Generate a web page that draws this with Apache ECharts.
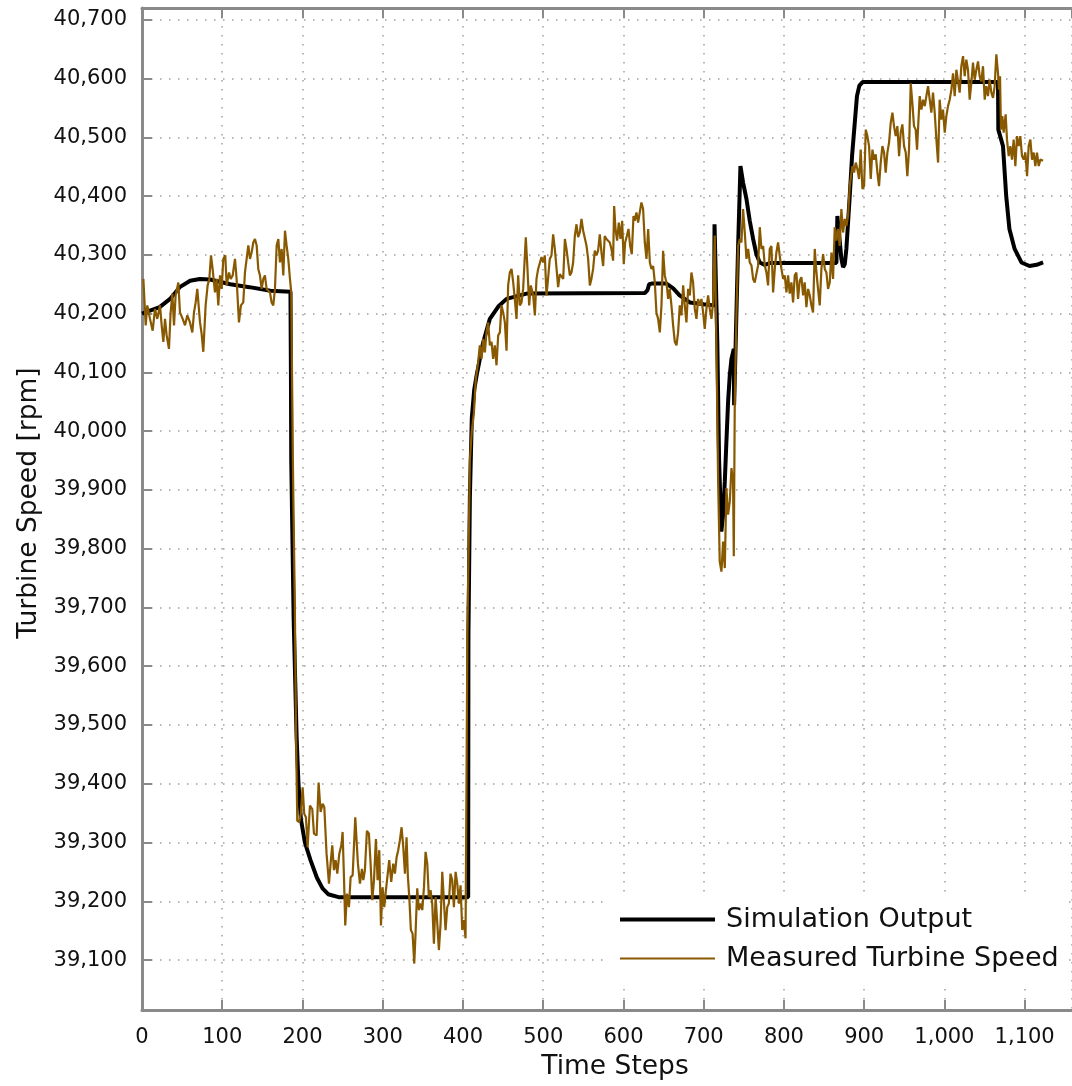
<!DOCTYPE html>
<html><head><meta charset="utf-8">
<script src="https://cdn.jsdelivr.net/npm/echarts@6/dist/echarts.min.js"></script>
<style>html,body{margin:0;padding:0;background:#fff}#c{width:1072px;height:1086px}</style>
</head><body><div id="c"></div>
<script>
const seriesNames = ['Simulation Output', 'Measured Turbine Speed'];
const yTicks = [39100, 39200, 39300, 39400, 39500, 39600, 39700, 39800, 39900, 40000, 40100, 40200, 40300, 40400, 40500, 40600, 40700];

const simX = [0, 2, 10, 22, 35, 47, 60, 72, 85, 110, 134, 160, 185, 185.6, 186, 189, 192.7, 195, 198, 203, 210, 218, 225, 232, 245, 406.5, 406.8, 408.6, 411, 414, 417, 425, 433.5, 444, 454.3, 479.3, 626.6, 630, 632, 635, 653.6, 662, 670, 682.7, 700, 713, 713.5, 715.5, 717, 719.2, 722, 724.2, 726.3, 728.3, 730.4, 732.5, 734.6, 737.5, 737.9, 740, 742.9, 745.8, 749.1, 753.3, 757.4, 761.6, 765.7, 769.9, 776.1, 782.3, 865.4, 866.6, 868.7, 871.6, 873.7, 875.8, 877.8, 879.9, 882, 885, 888, 891, 894, 898, 1066.8, 1067.2, 1073, 1077, 1081, 1087.5, 1096, 1106, 1115, 1123];
const simY = [40200, 40200, 40205, 40211, 40225, 40245, 40256, 40259, 40258, 40250, 40245, 40239, 40237, 40100, 39950, 39680, 39479, 39400, 39340, 39300, 39270, 39240, 39222, 39212, 39207, 39207, 39650, 39886, 40022, 40070, 40095, 40150, 40191, 40212, 40225, 40234, 40235, 40240, 40250, 40251, 40251, 40243, 40231, 40219, 40216, 40214, 40352, 40352, 40150, 39950, 39829, 39858, 39914, 39982, 40050, 40095, 40123, 40140, 40044, 40044, 40315, 40451, 40423, 40395, 40358, 40327, 40301, 40287, 40283, 40286, 40286, 40366, 40366, 40293, 40279, 40284, 40310, 40355, 40400, 40470, 40520, 40570, 40588, 40594, 40594, 40513, 40485, 40400, 40344, 40310, 40287, 40281, 40283, 40287];

const measX = [1.7, 4.6, 6.6, 10, 13.3, 16.2, 19.1, 22.4, 24.5, 26.6, 28.7, 30.7, 33.6, 35.7, 37.8, 39.9, 41.9, 45.3, 47.3, 50.7, 53.6, 56.5, 59.8, 62.7, 64.8, 66.9, 68.9, 72.3, 74.3, 76.4, 79.3, 81.8, 83.9, 86, 88, 90.9, 93, 95.1, 97.2, 99.3, 101.3, 103.8, 105.5, 108.4, 110.5, 113, 115.9, 117.9, 120.8, 123.3, 126.2, 128.3, 130.4, 132.5, 134.6, 136.6, 138.7, 140.8, 142.9, 144.9, 147, 149.1, 151.2, 153.2, 155.3, 159.5, 161.5, 163.6, 165.7, 167.8, 169.9, 171.9, 174, 176.1, 178.2, 180.2, 182.3, 184.4, 186,
  188, 190.5, 192, 193.5, 196, 198, 200.2, 202.2, 204.3, 206.4, 209.3, 212.2, 214.3, 217.6, 220.1, 222.6, 225.1, 227.2, 230, 233, 235, 237.1, 239.2, 241.3, 243.4, 245.9, 248.8, 250, 251.7, 253.3, 255.4, 257.9, 260, 262.5, 264.1, 265.8, 267.4, 269.1, 271.6, 274.1, 275.8, 277.8, 280.3, 282.8, 284.9, 287, 289.1, 291.5, 293.6, 295.7, 297.8, 299.8, 301.9, 304, 306.1, 308.1, 310.6, 313.1, 315.2, 317.3, 319.3, 321.4, 323.5, 325.6, 327.7, 329.7, 331.4, 333.1, 335.1, 337.2, 339.3, 340.9, 343, 345.1, 347.2, 349.3, 351.4, 353.4, 355.5, 357.5, 359.6, 361.7, 363.8, 365.9, 368, 370, 372.1, 374.2, 376.2, 378.3, 380.4, 382.4, 384.5, 386.6, 388.7, 390.8, 392.9, 395, 397, 399.1, 401.2, 403.2, 405.5, 408.6, 411, 413.6,
  416, 419, 421, 423.1, 425.2, 427.3, 429.3, 431.4, 433.5, 435.6, 437.6, 439.7, 441.8, 443.9, 446, 448, 450.1, 452.2, 454.3, 456.3, 458.4, 460.5, 462.6, 464.6, 466.7, 468.8, 470.9, 473, 475, 478.3, 480.4, 482.5, 484.5, 487.5, 489.6, 491.6, 493.7, 495.8, 497.9, 500, 502, 504.1, 506.2, 508.2, 510.3, 512.4, 514.5, 516.5, 518.6, 520.7, 522.8, 524.9, 527, 529, 531.1, 533.2, 535.2, 537.3, 539.4, 541.5, 543.5, 545.6, 547.7, 549.8, 551.8, 553.9, 556, 558.1, 560.1, 562.2, 564.3, 566.4, 568.4, 570.5, 572.6, 574.7, 576.7, 578.8, 580.9, 583, 585, 587.1, 588.4, 590.1, 592.1, 594.2, 596.3, 598.4, 600.4, 602.1, 604.2, 606.3, 608.3, 610.4, 612.5, 614.1, 616.2, 618.3, 620.3, 622.4, 624.5, 626.6, 628.7, 630.8, 632.9, 634.9, 637, 639.1, 641.1, 643.2, 645.3, 647.4, 649.4, 651.5, 653.6, 655.7, 657.7, 659.8, 661.9, 664, 666.1, 668.1, 670.2,
  672.3, 674.4, 676.4, 678.5, 680.6, 682.7, 684.7, 686.8, 688.9, 691, 693, 695.1, 697.2, 699.3, 701.3, 703.4, 705.5, 707.6, 709.7, 711.7, 713.8, 715.9, 718, 720, 722.1, 724.2, 726.3, 728.3, 730.4, 732.5, 734.6, 736.6, 737.5, 738.7, 740.8, 742.9, 745, 747, 749.1, 751.2, 753.3, 755.4, 757.4, 759.5, 761.6, 763.6, 765.7, 767.8, 769.9, 772, 774.1, 776.1, 778.2, 780.2, 782.3, 784.4, 786.5, 788.6, 790.6, 792.7, 794.8, 796.9, 799, 801, 803.1, 805.2, 807.2, 809.3, 811.4, 813.5, 815.5, 817.6, 819.7, 821.8, 823.9, 825.9, 828, 830.1, 832.2, 834.2, 836.3, 838.4, 840.5, 842.5, 844.6, 846.7, 848.8, 850.9, 852.9, 855, 857.1, 859.2, 861.2, 863.3, 865.4, 867.4, 869.5, 871.6, 873.7, 875.8, 877.8, 879.9,
  882, 885.3, 887.4, 889.5, 891.5, 893.6, 895.7, 897.8, 899.9, 902, 904, 906.1, 908.2, 910.3, 912.3, 914.4, 916.5, 918.5, 920.6, 922.7, 924.8, 926.8, 928.9, 931, 933.1, 935.2, 937.2, 939.3, 941.4, 943.5, 945.5, 947.6, 949.7, 951.8, 953.8, 955.9, 958, 960, 962.1, 964.2, 965.9, 967.5, 969.2, 971.3, 973.4, 975.5, 977.5, 979.6, 981.7, 983.7, 985.8, 987.9, 990, 992.1, 994.1, 996.2, 998.3, 1000.4, 1002.4, 1004.5, 1006.6, 1008.7, 1010.7, 1012.8, 1014.9, 1017, 1019, 1021.1, 1023.2, 1025.3, 1027.3, 1029.4, 1031.5, 1033.6, 1035.6, 1037.7, 1039.8, 1041.9, 1043.9, 1046, 1048.1, 1050.2, 1052.2, 1054.3, 1056.4, 1058.5, 1060.6, 1062.6, 1064.7, 1066.8, 1068, 1069.3, 1070.5, 1072.2, 1073.8, 1076.3, 1078, 1080.1, 1082.2, 1084.2, 1086.3, 1088.4, 1090.5, 1092.6, 1094.6, 1096.7, 1098.8, 1100.9, 1103, 1105, 1107.1, 1109.2, 1111.3, 1113.3, 1115.4, 1117.5, 1119.6, 1122.9];
const measY = [40259, 40180, 40214, 40191, 40171, 40208, 40191, 40214, 40180, 40152, 40191, 40163, 40140, 40202, 40234, 40180, 40231, 40253, 40202, 40191, 40180, 40197, 40185, 40168, 40202, 40219, 40242, 40185, 40166, 40135, 40214, 40248, 40259, 40299, 40276, 40236, 40259, 40214, 40265, 40242, 40293, 40299, 40248, 40270, 40259, 40265, 40293, 40259, 40185, 40214, 40219, 40270, 40293, 40316, 40293, 40304, 40321, 40327, 40316, 40276, 40265, 40242, 40259, 40265, 40242, 40236, 40219, 40214, 40242, 40316, 40327, 40287, 40310, 40265, 40341, 40316, 40293, 40259, 40236,
  39950, 39700, 39479, 39337, 39335, 39350, 39394, 39349, 39343, 39292, 39363, 39357, 39315, 39312, 39402, 39352, 39366, 39360, 39281, 39230, 39264, 39295, 39253, 39270, 39247, 39281, 39298, 39318, 39241, 39159, 39213, 39190, 39241, 39244, 39292, 39343, 39304, 39264, 39230, 39255, 39236, 39253, 39320, 39315, 39264, 39202, 39236, 39306, 39236, 39287, 39159, 39224, 39190, 39219, 39216, 39270, 39233, 39264, 39247, 39275, 39287, 39304, 39326, 39292, 39247, 39309, 39241, 39207, 39151, 39145, 39094, 39145, 39222, 39185, 39196, 39185, 39224, 39284, 39264, 39207, 39219, 39196, 39128, 39207, 39162, 39117, 39162, 39250, 39202, 39151, 39190, 39196, 39247, 39236, 39190, 39250, 39230, 39196, 39227, 39151, 39168, 39137, 39650, 39950, 40000, 40030,
  40089, 40118, 40146, 40123, 40157, 40134, 40168, 40185, 40146, 40152, 40123, 40146, 40112, 40163, 40168, 40214, 40202, 40185, 40137, 40248, 40270, 40276, 40253, 40225, 40191, 40265, 40214, 40219, 40242, 40330, 40276, 40214, 40248, 40231, 40197, 40259, 40276, 40279, 40296, 40287, 40299, 40231, 40262, 40293, 40299, 40335, 40310, 40313, 40245, 40267, 40270, 40259, 40327, 40310, 40287, 40265, 40270, 40287, 40332, 40352, 40330, 40338, 40361, 40341, 40344, 40316, 40293, 40248, 40259, 40276, 40307, 40299, 40307, 40335, 40304, 40281, 40332, 40327, 40327, 40321, 40310, 40290, 40383, 40344, 40324, 40355, 40327, 40358, 40284, 40321, 40332, 40344, 40316, 40301, 40366, 40358, 40372, 40355, 40372, 40389, 40378, 40321, 40293, 40344, 40287, 40276, 40281, 40253, 40202, 40191, 40168, 40214, 40307, 40265, 40253, 40225, 40242, 40214, 40180, 40152, 40146, 40168, 40214,
  40197, 40248, 40214, 40185, 40242, 40231, 40270, 40253, 40208, 40191, 40225, 40214, 40225, 40202, 40174, 40208, 40231, 40208, 40191, 40219, 40333, 40140, 39914, 39778, 39761, 39812, 39767, 39903, 39858, 39880, 39937, 39914, 39787, 40044, 40197, 40315, 40327, 40321, 40378, 40338, 40293, 40310, 40287, 40282, 40259, 40253, 40253, 40282, 40347, 40310, 40315, 40282, 40270, 40248, 40310, 40315, 40236, 40276, 40304, 40321, 40298, 40276, 40259, 40265, 40236, 40265, 40234, 40253, 40219, 40265, 40270, 40225, 40256, 40262, 40231, 40253, 40211, 40242, 40231, 40214, 40202, 40310, 40270, 40242, 40214, 40276, 40301, 40276, 40270, 40242, 40253, 40304, 40259, 40347, 40324, 40344, 40315, 40378, 40338, 40361, 40349, 40366,
  40417, 40451, 40440, 40457, 40446, 40429, 40479, 40412, 40417, 40513, 40502, 40485, 40429, 40479, 40462, 40471, 40440, 40417, 40457, 40485, 40474, 40440, 40474, 40491, 40525, 40542, 40519, 40502, 40519, 40468, 40508, 40522, 40485, 40474, 40434, 40479, 40592, 40559, 40519, 40513, 40479, 40525, 40570, 40547, 40564, 40553, 40570, 40587, 40564, 40542, 40576, 40542, 40496, 40457, 40564, 40530, 40547, 40508, 40536, 40553, 40564, 40581, 40609, 40570, 40615, 40595, 40576, 40621, 40638, 40604, 40632, 40615, 40564, 40593, 40627, 40598, 40615, 40629, 40604, 40595, 40621, 40564, 40587, 40570, 40598, 40576, 40567, 40587, 40641, 40609, 40581, 40604, 40513, 40536, 40508, 40539, 40496, 40468, 40485, 40462, 40496, 40451, 40502, 40485, 40502, 40468, 40462, 40474, 40434, 40485, 40496, 40462, 40474, 40451, 40474, 40451, 40462, 40460];

const F = 'DejaVu Sans';
const gray = '#8a8a8a';
const simColor = '#000000';
const measColor = '#885900';
const gridLine = {show: true, lineStyle: {color: '#a0a0a0', width: 1.5, type: [1.5, 7.5]}};
const fmt = v => Number(v).toLocaleString('en-US');

const chart = echarts.init(document.getElementById('c'));
chart.setOption({
  animation: false,
  backgroundColor: '#fff',
  grid: {left: 142, top: 8, right: 0, bottom: 74},
  xAxis: [{
    type: 'value', min: 0, max: 1159, interval: 100, position: 'bottom',
    axisLine: {show: true, onZero: false, lineStyle: {color: gray, width: 3}},
    axisTick: {show: true, inside: true, length: 10, lineStyle: {color: gray, width: 2}},
    axisLabel: {fontFamily: F, fontSize: 21, color: '#111', margin: 17, showMaxLabel: false, formatter: fmt},
    splitLine: gridLine,
    name: 'Time Steps', nameLocation: 'middle', nameGap: 44,
    nameTextStyle: {fontFamily: F, fontSize: 26.5, color: '#111', padding: [0, 0, 0, 16]}
  }, {
    type: 'value', min: 0, max: 1159, interval: 100, position: 'top',
    axisLine: {show: true, onZero: false, lineStyle: {color: gray, width: 3}},
    axisTick: {show: true, inside: true, length: 10, lineStyle: {color: gray, width: 2}},
    axisLabel: {show: false}, splitLine: {show: false}
  }],
  yAxis: {
    type: 'value', min: 39015, max: 40720, position: 'left',
    axisLine: {show: true, onZero: false, lineStyle: {color: gray, width: 3}},
    axisTick: {show: true, inside: true, length: 10, customValues: yTicks, lineStyle: {color: gray, width: 2}},
    axisLabel: {fontFamily: F, fontSize: 21, color: '#111', margin: 15, customValues: yTicks, formatter: fmt},
    splitLine: gridLine,
    name: 'Turbine Speed [rpm]', nameLocation: 'middle', nameGap: 98,
    nameTextStyle: {fontFamily: F, fontSize: 26.5, color: '#111', padding: [0, 0, 0, 12]}
  },
  legend: {
    orient: 'vertical', left: 605, top: 894, backgroundColor: '#fff',
    padding: [12, 8, 12, 15], itemWidth: 95, itemHeight: 14, itemGap: 12,
    textStyle: {fontFamily: F, fontSize: 27, color: '#111', padding: [0, 0, 0, 6]},
    data: [
      {name: seriesNames[0], icon: 'path://M0,0H95V4H0Z', itemStyle: {color: simColor}},
      {name: seriesNames[1], icon: 'path://M0,0H95V2H0Z', itemStyle: {color: measColor}}
    ]
  },
  series: [{
    type: 'line', name: seriesNames[0], symbol: 'none', z: 2,
    lineStyle: {color: simColor, width: 4}, itemStyle: {color: simColor},
    data: simX.map((x, i) => [x, simY[i]])
  }, {
    type: 'line', name: seriesNames[1], symbol: 'none', z: 3,
    lineStyle: {color: measColor, width: 2.2}, itemStyle: {color: measColor},
    data: measX.map((x, i) => [x, measY[i]])
  }]
});
</script></body></html>
